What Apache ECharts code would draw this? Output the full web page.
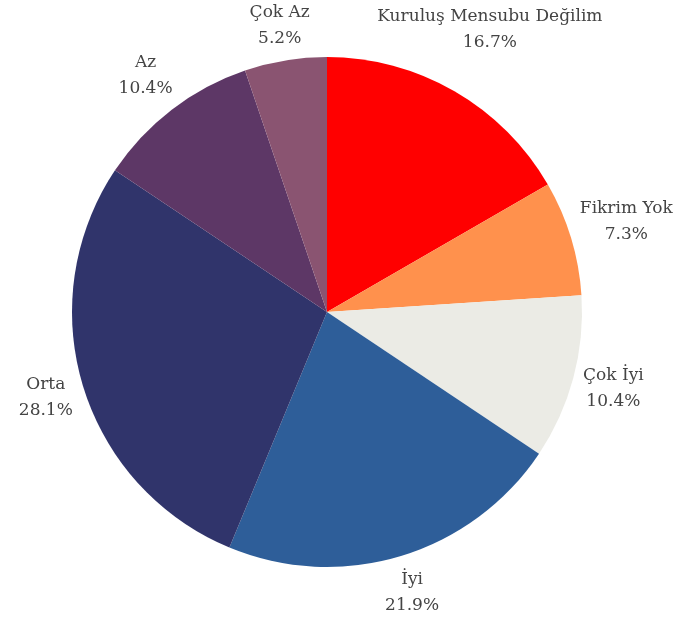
<!DOCTYPE html>
<html>
<head>
<meta charset="utf-8">
<script src="https://cdn.jsdelivr.net/npm/echarts@6/dist/echarts.min.js"></script>
<style>
html, body { margin: 0; padding: 0; background: #fff; }
#chart { width: 685px; height: 631px; }
</style>
</head>
<body>
<div id="chart"></div>
<script>
var categories = ['Kuruluş Mensubu Değilim', 'Fikrim Yok', 'Çok İyi', 'İyi', 'Orta', 'Az', 'Çok Az'];
var counts = [16, 7, 10, 21, 27, 10, 5];
var colors = ['#ff0000', '#ff914d', '#ebebe5', '#2e5e99', '#30346b', '#5d3766', '#8a5471'];

var cx = 327, cy = 312, radius = 255;
var total = counts.reduce(function (a, b) { return a + b; }, 0);

// mid angle of every slice, clockwise from 12 o'clock
var midAngles = [];
var acc = 0;
counts.forEach(function (v) {
    midAngles.push((acc + v / 2) / total * 2 * Math.PI);
    acc += v;
});

// push the label box out along the mid angle until its nearest corner clears the pie
function placeLabel(params) {
    var t = midAngles[params.dataIndex];
    var ux = Math.sin(t), uy = -Math.cos(t);
    var w = params.labelRect.width, h = params.labelRect.height;
    var ax = (ux >= 0 ? 1 : -1) * w / 2;
    var ay = (uy >= 0 ? 1 : -1) * h / 2;
    var R = radius + 6;
    var ua = ux * ax + uy * ay;
    var d = ua + Math.sqrt(ua * ua - (ax * ax + ay * ay) + R * R);
    return {
        x: cx + ux * d,
        y: cy + uy * d,
        align: 'center',
        verticalAlign: 'middle'
    };
}

var chart = echarts.init(document.getElementById('chart'));
chart.setOption({
    animation: false,
    backgroundColor: '#fff',
    series: [{
        type: 'pie',
        center: [cx, cy],
        radius: radius,
        startAngle: 90,
        clockwise: true,
        avoidLabelOverlap: false,
        data: categories.map(function (c, i) {
            return { name: c, value: counts[i], itemStyle: { color: colors[i] } };
        }),
        itemStyle: { borderWidth: 0 },
        label: {
            show: true,
            position: 'outside',
            fontFamily: 'DejaVu Serif',
            fontSize: 17,
            lineHeight: 26,
            color: '#444',
            align: 'center',
            formatter: function (p) {
                return p.name + '\n' + (p.value / total * 100).toFixed(1) + '%';
            }
        },
        labelLine: { show: false },
        labelLayout: placeLabel
    }]
});
</script>
</body>
</html>
